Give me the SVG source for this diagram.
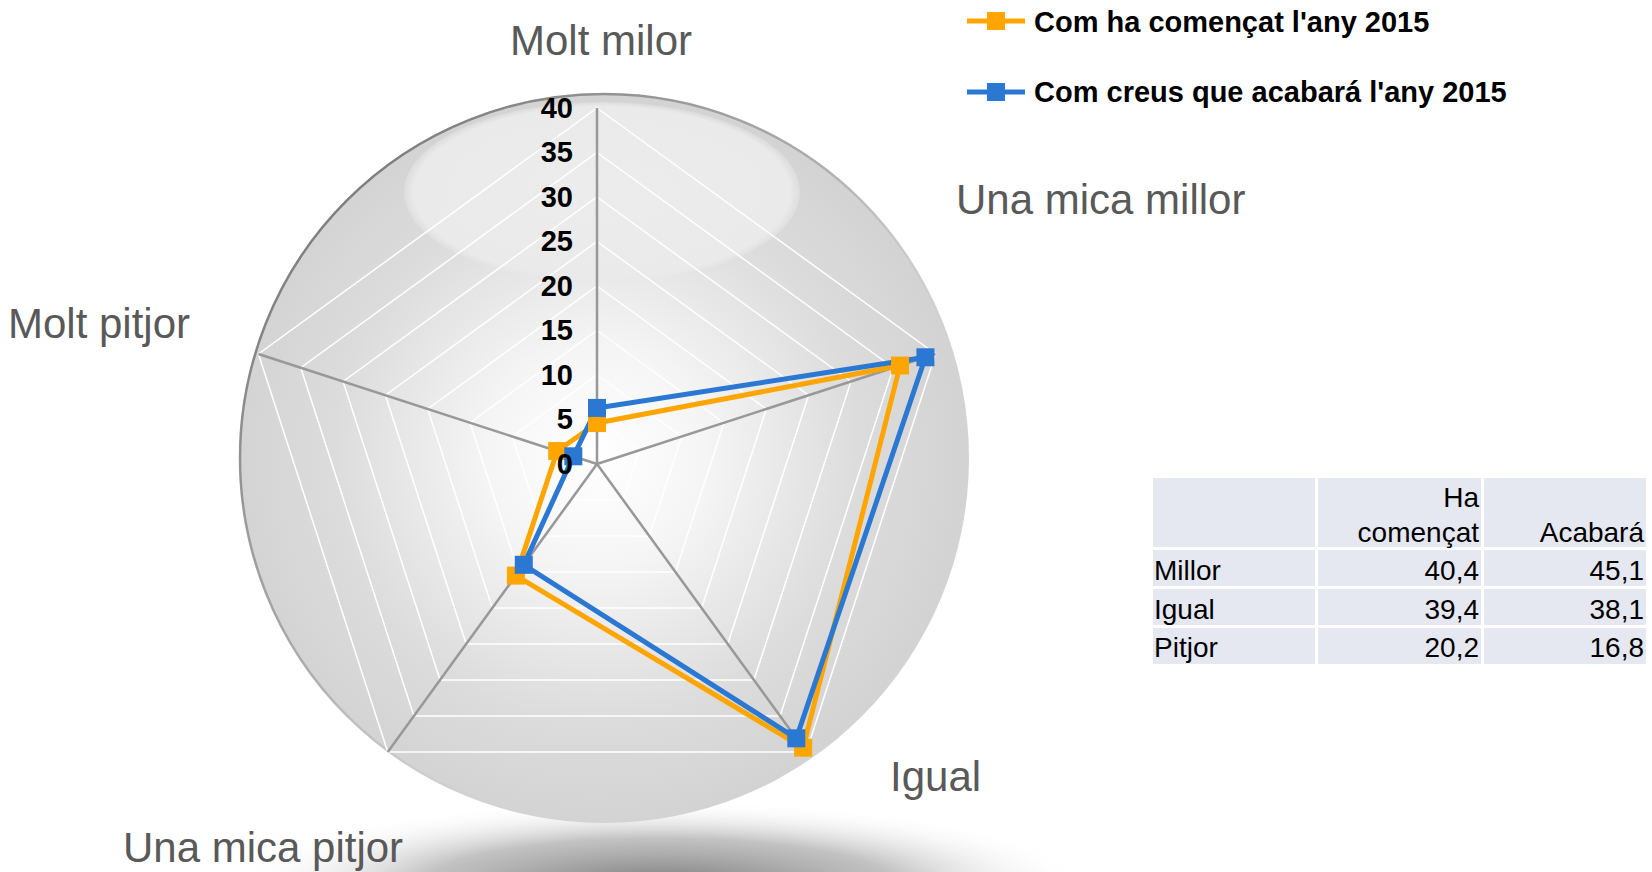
<svg xmlns="http://www.w3.org/2000/svg" width="1652" height="872" viewBox="0 0 1652 872">
<defs>
<radialGradient id="bgGrad" cx="0.49" cy="0.5" r="0.5">
<stop offset="0" stop-color="#ffffff"/>
<stop offset="0.3" stop-color="#f5f5f5"/>
<stop offset="0.72" stop-color="#dcdcdc"/>
<stop offset="1" stop-color="#d3d3d3"/>
</radialGradient>
<linearGradient id="rimGrad" x1="0" y1="0" x2="1" y2="1">
<stop offset="0" stop-color="#555555" stop-opacity="0.9"/>
<stop offset="0.45" stop-color="#888888" stop-opacity="0.5"/>
<stop offset="0.7" stop-color="#d3d3d3" stop-opacity="0"/>
</linearGradient>
<radialGradient id="hiGrad" cx="0.5" cy="0.5" r="0.5">
<stop offset="0" stop-color="#ececec" stop-opacity="1"/>
<stop offset="0.95" stop-color="#eaeaea" stop-opacity="1"/>
<stop offset="1" stop-color="#e8e8e8" stop-opacity="0.4"/>
</radialGradient>
<radialGradient id="shGrad" cx="0.5" cy="0.5" r="0.5">
<stop offset="0" stop-color="#7a7a7a" stop-opacity="1"/>
<stop offset="0.55" stop-color="#a8a8a8" stop-opacity="0.7"/>
<stop offset="1" stop-color="#ffffff" stop-opacity="0"/>
</radialGradient>
<style>
.cat{font-family:"Liberation Sans",Arial,sans-serif;font-size:42px;fill:#595959}
.num{font-family:"Liberation Sans",Arial,sans-serif;font-size:29px;font-weight:bold;fill:#000;text-anchor:end}
.leg{font-family:"Liberation Sans",Arial,sans-serif;font-size:29px;font-weight:bold;fill:#000}
.tb{font-family:"Liberation Sans",Arial,sans-serif;font-size:28px;fill:#000}
.r{text-anchor:end}
.grid{fill:none;stroke:#ffffff;stroke-width:1.5}
.spoke{stroke:#989898;stroke-width:2.5}
.cell{fill:#e6e8f1}
.so{fill:none;stroke:#ffa500;stroke-width:5;stroke-linejoin:round}
.sb{fill:none;stroke:#2b78d3;stroke-width:5;stroke-linejoin:round}
.mo{fill:#ffa500}
.mb{fill:#2b78d3}
</style>
</defs>
<rect width="1652" height="872" fill="#ffffff"/>
<g id="background">
<ellipse cx="660" cy="885" rx="430" ry="85" fill="url(#shGrad)"/>
<circle cx="604" cy="458" r="365" fill="url(#bgGrad)"/>
<circle cx="604" cy="458" r="364" fill="none" stroke="url(#rimGrad)" stroke-width="2.5"/>
<ellipse cx="602" cy="192" rx="198" ry="90" fill="url(#hiGrad)"/>
</g>
<g id="grid">
<polygon class="grid" points="597,419.5 639.32,450.25 623.16,500 570.84,500 554.68,450.25"/>
<polygon class="grid" points="597,375 681.64,436.5 649.31,536 544.69,536 512.36,436.5"/>
<polygon class="grid" points="597,330.5 723.97,422.75 675.47,572 518.53,572 470.03,422.75"/>
<polygon class="grid" points="597,286 766.29,409 701.63,608.01 492.37,608.01 427.71,409"/>
<polygon class="grid" points="597,241.5 808.61,395.24 727.78,644.01 466.22,644.01 385.39,395.24"/>
<polygon class="grid" points="597,197 850.93,381.49 753.94,680.01 440.06,680.01 343.07,381.49"/>
<polygon class="grid" points="597,152.5 893.26,367.74 780.09,716.01 413.91,716.01 300.74,367.74"/>
<polygon class="grid" points="597,108 935.58,353.99 806.25,752.01 387.75,752.01 258.42,353.99"/>
</g>
<g id="spokes">
<line class="spoke" x1="597" y1="464" x2="597" y2="108"/>
<line class="spoke" x1="597" y1="464" x2="935.58" y2="353.99"/>
<line class="spoke" x1="597" y1="464" x2="806.25" y2="752.01"/>
<line class="spoke" x1="597" y1="464" x2="387.75" y2="752.01"/>
<line class="spoke" x1="597" y1="464" x2="258.42" y2="353.99"/>
</g>
<g id="categories">
<text class="cat" x="601" y="55" text-anchor="middle">Molt milor</text>
<text class="cat" x="956" y="214">Una mica millor</text>
<text class="cat" x="8" y="338">Molt pitjor</text>
<text class="cat" x="890" y="791">Igual</text>
<text class="cat" x="123" y="862">Una mica pitjor</text>
</g>
<g id="connectors">
<polygon class="so" points="597,423.06 900.03,365.54 803.11,747.69 515.91,575.6 557.22,451.07"/>
<polygon class="sb" points="597,407.93 925.42,357.29 796.31,738.33 523.76,564.8 573.3,456.3"/>
</g>
<g id="series-orange">
<rect class="mo" x="588" y="414.06" width="18" height="18"/>
<rect class="mo" x="891.03" y="356.54" width="18" height="18"/>
<rect class="mo" x="794.11" y="738.69" width="18" height="18"/>
<rect class="mo" x="506.91" y="566.6" width="18" height="18"/>
<rect class="mo" x="548.22" y="442.07" width="18" height="18"/>
</g>
<g id="series-blue">
<rect class="mb" x="588" y="398.93" width="18" height="18"/>
<rect class="mb" x="916.42" y="348.29" width="18" height="18"/>
<rect class="mb" x="787.31" y="729.33" width="18" height="18"/>
<rect class="mb" x="514.76" y="555.8" width="18" height="18"/>
<rect class="mb" x="564.3" y="447.3" width="18" height="18"/>
</g>
<g id="axis-values">
<text class="num" x="573" y="118">40</text>
<text class="num" x="573" y="162">35</text>
<text class="num" x="573" y="207">30</text>
<text class="num" x="573" y="251">25</text>
<text class="num" x="573" y="296">20</text>
<text class="num" x="573" y="340">15</text>
<text class="num" x="573" y="385">10</text>
<text class="num" x="573" y="429">5</text>
<text class="num" x="573" y="474">0</text>
</g>
<g id="legend">
<line x1="967" y1="21" x2="1025" y2="21" stroke="#ffa500" stroke-width="5"/>
<rect class="mo" x="987" y="12" width="18" height="18"/>
<text class="leg" x="1034" y="32">Com ha començat l'any 2015</text>
<line x1="967" y1="92" x2="1025" y2="92" stroke="#2b78d3" stroke-width="5"/>
<rect class="mb" x="987" y="83" width="18" height="18"/>
<text class="leg" x="1034" y="102">Com creus que acabará l'any 2015</text>
</g>
<g id="table">
<rect class="cell" x="1153" y="478" width="162" height="69"/>
<rect class="cell" x="1318" y="478" width="163" height="69"/>
<rect class="cell" x="1484" y="478" width="162" height="69"/>
<rect class="cell" x="1153" y="550" width="162" height="36"/>
<rect class="cell" x="1318" y="550" width="163" height="36"/>
<rect class="cell" x="1484" y="550" width="162" height="36"/>
<rect class="cell" x="1153" y="589" width="162" height="36"/>
<rect class="cell" x="1318" y="589" width="163" height="36"/>
<rect class="cell" x="1484" y="589" width="162" height="36"/>
<rect class="cell" x="1153" y="628" width="162" height="36"/>
<rect class="cell" x="1318" y="628" width="163" height="36"/>
<rect class="cell" x="1484" y="628" width="162" height="36"/>
<text class="tb r" x="1479" y="507">Ha</text>
<text class="tb r" x="1479" y="542">començat</text>
<text class="tb r" x="1644" y="542">Acabará</text>
<text class="tb" x="1154" y="580">Millor</text>
<text class="tb r" x="1479" y="580">40,4</text>
<text class="tb r" x="1644" y="580">45,1</text>
<text class="tb" x="1154" y="619">Igual</text>
<text class="tb r" x="1479" y="619">39,4</text>
<text class="tb r" x="1644" y="619">38,1</text>
<text class="tb" x="1154" y="657">Pitjor</text>
<text class="tb r" x="1479" y="657">20,2</text>
<text class="tb r" x="1644" y="657">16,8</text>
</g>
</svg>
